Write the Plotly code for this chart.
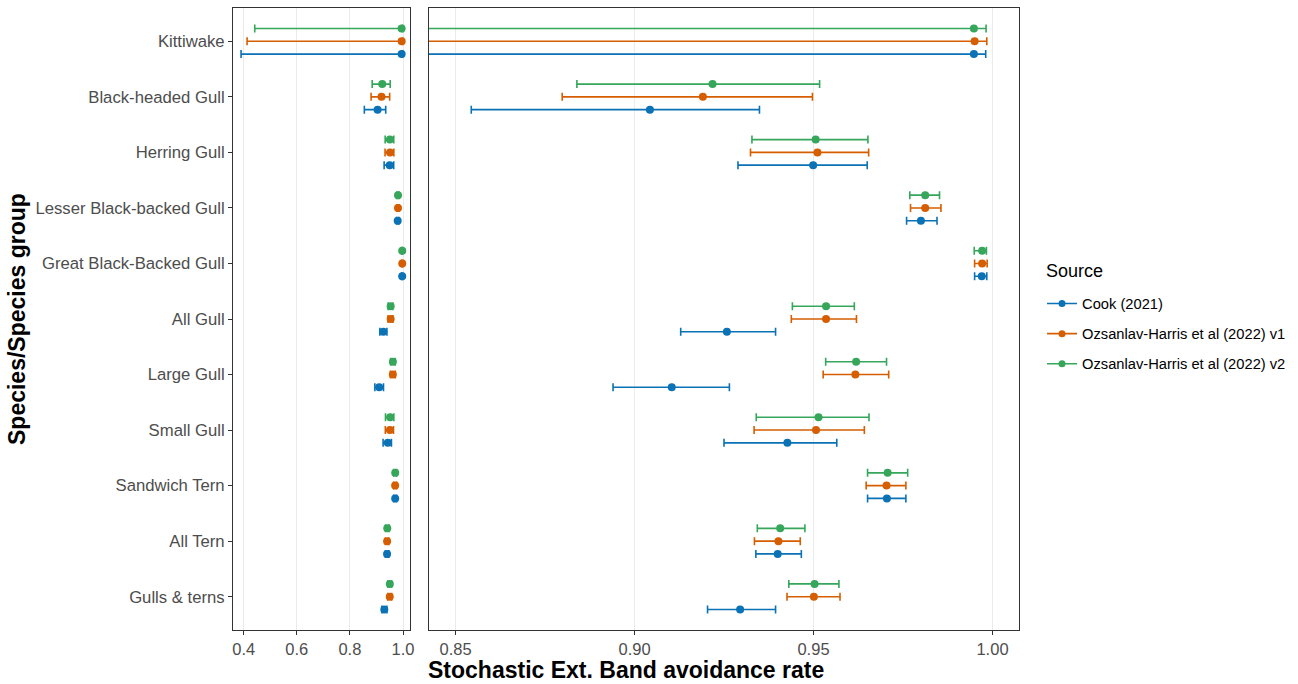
import plotly.graph_objects as go

categories = ["Kittiwake", "Black-headed Gull", "Herring Gull", "Lesser Black-backed Gull",
              "Great Black-Backed Gull", "All Gull", "Large Gull", "Small Gull",
              "Sandwich Tern", "All Tern", "Gulls & terns"]

sources = ["Cook (2021)", "Ozsanlav-Harris et al (2022) v1", "Ozsanlav-Harris et al (2022) v2"]

cook_est = [0.9948, 0.9043, 0.9499, 0.9800, 0.9970, 0.9258, 0.9104, 0.9427, 0.9705, 0.9400, 0.9295]
cook_lo  = [0.3900, 0.8544, 0.9289, 0.9760, 0.9950, 0.9129, 0.8940, 0.9250, 0.9651, 0.9339, 0.9204]
cook_hi  = [0.9981, 0.9349, 0.9650, 0.9845, 0.9984, 0.9394, 0.9265, 0.9565, 0.9758, 0.9466, 0.9394]

v1_est = [0.9950, 0.9191, 0.9511, 0.9812, 0.9971, 0.9535, 0.9617, 0.9507, 0.9704, 0.9402, 0.9501]
v1_lo  = [0.4126, 0.8798, 0.9324, 0.9771, 0.9950, 0.9438, 0.9527, 0.9334, 0.9647, 0.9335, 0.9426]
v1_hi  = [0.9984, 0.9497, 0.9654, 0.9856, 0.9985, 0.9620, 0.9710, 0.9642, 0.9758, 0.9463, 0.9574]

v2_est = [0.9948, 0.9218, 0.9506, 0.9812, 0.9971, 0.9535, 0.9619, 0.9514, 0.9707, 0.9407, 0.9503]
v2_lo  = [0.4415, 0.8839, 0.9328, 0.9769, 0.9949, 0.9441, 0.9534, 0.9340, 0.9651, 0.9343, 0.9431]
v2_hi  = [0.9982, 0.9517, 0.9652, 0.9852, 0.9983, 0.9614, 0.9704, 0.9655, 0.9763, 0.9476, 0.9571]

colors = ["#0A72B5", "#D55E00", "#35A65A"]
dodge = [0.23, 0.0, -0.23]   # blue below, orange centre, green above (axis reversed)

FONT = "Liberation Sans, Arial, Helvetica, sans-serif"

series = [(cook_est, cook_lo, cook_hi), (v1_est, v1_lo, v1_hi), (v2_est, v2_lo, v2_hi)]
pos = list(range(1, len(categories) + 1))

fig = go.Figure()
for (est, lo, hi), name, col, off in zip(series, sources, colors, dodge):
    ys = [p + off for p in pos]
    plus = [h - e for h, e in zip(hi, est)]
    minus = [e - l for e, l in zip(est, lo)]
    for xa, ya in (("x", "y"), ("x2", "y2")):
        fig.add_trace(go.Scatter(
            x=est, y=ys, mode="markers", xaxis=xa, yaxis=ya,
            marker=dict(color=col, size=8),
            error_x=dict(type="data", symmetric=False, array=plus, arrayminus=minus,
                         color=col, thickness=1.6, width=4),
            showlegend=False, name=name, hoverinfo="x+name"))

for name, col in zip(sources, colors):
    fig.add_trace(go.Scatter(x=[None], y=[None], mode="lines+markers", name=name,
                             line=dict(color=col, width=1.6), marker=dict(color=col, size=7),
                             xaxis="x2", yaxis="y2", legendgroup=name))

axis_common = dict(showline=True, mirror=True, linecolor="#333333", linewidth=1,
                   ticks="outside", ticklen=4, tickcolor="#333333", tickwidth=1,
                   showgrid=True, gridcolor="#EBEBEB", gridwidth=1, zeroline=False,
                   tickfont=dict(family=FONT, size=16.5, color="#4D4D4D"))

fig.update_layout(
    width=1298, height=684,
    margin=dict(l=233, r=279, t=8, b=54, autoexpand=False),
    plot_bgcolor="white", paper_bgcolor="white",
    xaxis=dict(domain=[0, 0.2252], range=[0.3596, 1.0264], anchor="y",
               tickvals=[0.4, 0.6, 0.8, 1.0], tickformat=".1f", **axis_common),
    xaxis2=dict(domain=[0.2494, 1], range=[0.8426, 1.0074], anchor="y2",
                tickvals=[0.85, 0.90, 0.95, 1.00], tickformat=".2f", **axis_common),
    yaxis=dict(range=[11.6, 0.4], anchor="x", tickvals=pos, ticktext=categories,
               showline=True, mirror=True, linecolor="#333333", linewidth=1,
               ticks="outside", ticklen=4, tickcolor="#333333", showgrid=False, zeroline=False,
               tickfont=dict(family=FONT, size=16.7, color="#4D4D4D")),
    yaxis2=dict(range=[11.6, 0.4], anchor="x2", matches="y", showticklabels=False,
                showline=True, mirror=True, linecolor="#333333", linewidth=1,
                ticks="", showgrid=False, zeroline=False),
    legend=dict(x=1.0293, y=0.4759, xanchor="left", yanchor="middle",
                font=dict(family=FONT, size=14.7, color="#000000"),
                tracegroupgap=8, bgcolor="rgba(0,0,0,0)"),
    annotations=[
        dict(text="<b>Stochastic Ext. Band avoidance rate</b>", xref="paper", yref="paper",
             x=0.5, y=-0.0643, xanchor="center", yanchor="middle", showarrow=False,
             font=dict(family=FONT, size=23, color="#000000")),
        dict(text="<b>Species/Species group</b>", xref="paper", yref="paper",
             x=-0.2748, y=0.5, xanchor="center", yanchor="middle", textangle=-90,
             showarrow=False, font=dict(family=FONT, size=23, color="#000000")),
        dict(text="Source", xref="paper", yref="paper", x=1.0319, y=0.5772,
             xanchor="left", yanchor="middle", showarrow=False,
             font=dict(family=FONT, size=18, color="#000000")),
    ],
)

fig.write_html("out.html")
